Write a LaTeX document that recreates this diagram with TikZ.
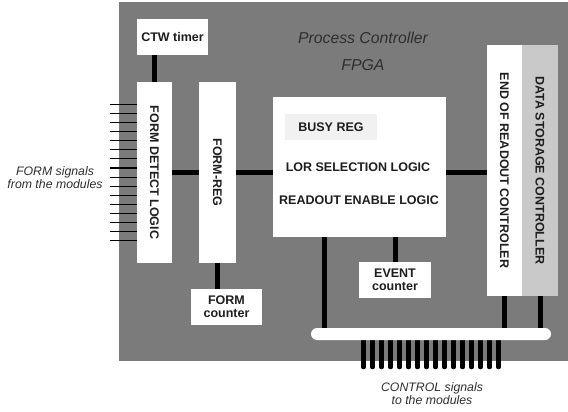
\documentclass[tikz,border=0pt]{standalone}
\usepackage{fontspec}
\setmainfont{Liberation Sans}
\usepackage{tikz}
\usetikzlibrary{backgrounds}
\definecolor{fpgagray}{HTML}{7B7B7B}
\definecolor{storage}{HTML}{C9C9C9}
\definecolor{busyfill}{HTML}{F1F1F1}
\definecolor{inktext}{HTML}{1E1E1E}
\definecolor{softtext}{HTML}{2E2E2E}
\tikzset{
  blockbox/.style={fill=white, inner sep=0pt, align=center, text=inktext,
    font=\fontsize{12.5}{13}\selectfont\bfseries},
  storagebox/.style={blockbox, fill=storage},
  busybox/.style={blockbox, fill=busyfill, minimum width=92pt, minimum height=26pt},
  textline/.style={inner sep=0pt, text=inktext, font=\fontsize{12.5}{13}\selectfont\bfseries},
  busbar/.style={fill=white, rounded corners=6pt, inner sep=0pt,
    minimum width=240pt, minimum height=12pt},
  wire/.style={line width=5pt},
  ctlline/.style={line width=4.2pt, line cap=round},
  sigline/.style={line width=1.1pt},
  note/.style={align=center, text=softtext, font=\fontsize{12.3}{13}\selectfont\itshape}
}

\begin{document}
\begin{tikzpicture}[x=1pt,y=-1pt]
    \useasboundingbox (0,0) rectangle (568,412);
    \node[blockbox, minimum width=71pt, minimum height=36pt] (ctw) at (172.5,37) {CTW timer};
    \node[blockbox, minimum width=35pt, minimum height=181pt] (fdl) at (154.5,172.5) {\rotatebox{-90}{FORM DETECT LOGIC}};
    \node[blockbox, minimum width=37pt, minimum height=181pt] (freg) at (217.5,172.5) {\rotatebox{-90}{FORM-REG}};
    \node[blockbox, minimum width=173pt, minimum height=140pt] (ctrl) at (359.5,167) {};
    \node[busybox] (busy) at (331,127) {BUSY REG};
    \node[textline] (lor) at (358,167) {LOR SELECTION LOGIC};
    \node[textline] (rdo) at (359,200) {READOUT ENABLE LOGIC};
    \node[blockbox, minimum width=35pt, minimum height=251pt] (eor) at (504.5,170.5) {\rotatebox{-90}{END OF READOUT CONTROLER}};
    \node[storagebox, minimum width=36pt, minimum height=251pt] (dsc) at (540,170.5) {\rotatebox{-90}{DATA STORAGE CONTROLLER}};
    \node[blockbox, minimum width=71pt, minimum height=36pt] (fcnt) at (226.5,307) {FORM\\counter};
    \node[blockbox, minimum width=72pt, minimum height=36pt] (evt) at (395,280) {EVENT\\counter};
    \node[busbar] (bus) at (431,334) {};
    \node[note, font=\fontsize{15.8}{27}\selectfont\itshape] (fpga) at (363,51) {Process Controller\\FPGA};
    \node[note] (formsig) at (55,178) {FORM signals\\from the modules};
    \node[note] (ctlsig) at (432,394) {CONTROL signals\\to the modules};
    \coordinate (tap) at ([xshift=-35.5pt]ctrl.south);
    \begin{scope}[on background layer]
      \fill[fpgagray] (119,2) rectangle (568,361);
      \draw[wire] (ctw.south -| fdl.north) -- (fdl.north);
      \draw[wire] (fdl) -- (freg);
      \draw[wire] (freg.east) -- (freg.east -| ctrl.west);
      \draw[wire] (ctrl.east |- freg.east) -- (eor.west |- freg.east);
      \draw[wire] (freg.south) -- (fcnt.north -| freg.south);
      \draw[wire] (evt.north) -- (evt.north |- ctrl.south);
      \draw[wire] (tap) -- (tap |- bus.north);
      \draw[wire] (eor.south) -- (eor.south |- bus.north);
      \draw[wire] (dsc.south) -- (dsc.south |- bus.north);
      \foreach \k in {0,...,15} {
        \draw[ctlline] ([xshift={(9*\k-67.5)*1pt}]bus.south) -- ++(0,27);
        \draw[sigline] ([yshift={(68.3-9.11*\k)*1pt}]fdl.west) -- ++(-27,0);
      }
    \end{scope}
  \end{tikzpicture}
\end{document}
